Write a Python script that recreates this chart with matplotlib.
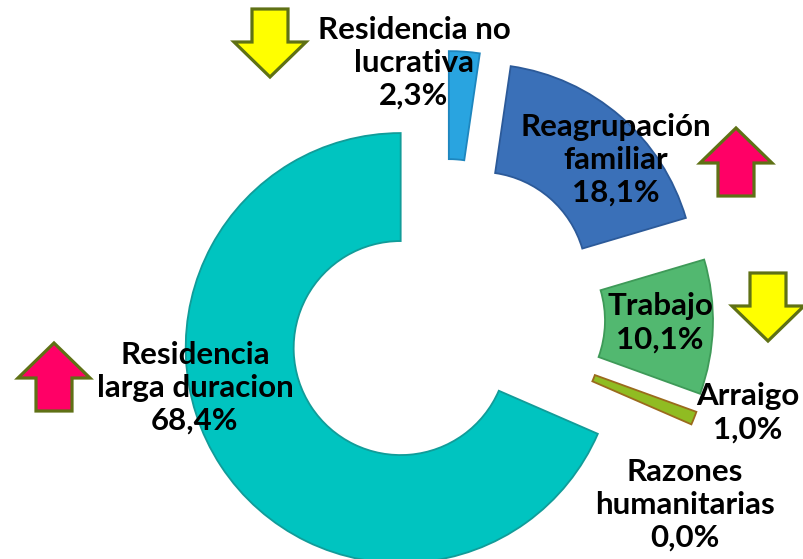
import matplotlib
matplotlib.use("Agg")
from matplotlib import pyplot as plt
from matplotlib.patches import FancyArrow

categories = ["Residencia no\nlucrativa", "Reagrupación\nfamiliar", "Trabajo", "Arraigo",
              "Razones\nhumanitarias", "Residencia\nlarga duracion"]
values = [2.3, 18.1, 10.1, 1.0, 0.0, 68.4]
labels = ["2,3%", "18,1%", "10,1%", "1,0%", "0,0%", "68,4%"]
colors = ["#29A4E0", "#3A70B8", "#52B870", "#90BC22", "#A05030", "#00C4C0"]
edges = ["#1E86BE", "#2C5A99", "#3E9A58", "#9A6A1C", "#A05030", "#119C99"]

W, H = 804, 559
fig = plt.figure(figsize=(W / 100, H / 100), dpi=100)
ax = fig.add_axes([0, 0, 1, 1])

keep = [i for i, v in enumerate(values) if v > 0]
wedges, _ = ax.pie([values[i] for i in keep], colors=[colors[i] for i in keep],
                   startangle=90, counterclock=False, radius=215, center=(445, H - 319),
                   explode=[53] * len(keep), frame=False,
                   wedgeprops=dict(width=108, linewidth=1.3))
for w, i in zip(wedges, keep):
    w.set_edgecolor(edges[i])
ax.set_xlim(0, W)
ax.set_ylim(0, H)
ax.set_aspect("equal")
ax.axis("off")

text_pos = [(414, 63), (616, 160), (660, 323), (748, 413), (685, 505), (195, 388)]
for name, lab, (x, y) in zip(categories, labels, text_pos):
    ax.text(x, H - y, name + "\n" + lab, ha="center", va="center", fontsize=22.5,
            fontweight="bold", family="Lato", linespacing=1.22, color="black")

# block arrows (x center, top y, direction) in screen px
arrow_pos = [(270, 9, -1), (736, 128, 1), (768, 273, -1), (54, 343, 1)]
for x, top, d in arrow_pos:
    if d > 0:
        start, dy, fc = H - top - 68, 68, "#FF0066"
    else:
        start, dy, fc = H - top, -68, "#FFFF00"
    ax.add_patch(FancyArrow(x, start, 0, dy, width=36, head_width=72, head_length=35,
                            length_includes_head=True, facecolor=fc,
                            edgecolor="#5F7115", linewidth=2.3, joinstyle="miter"))

fig.savefig("out.png", dpi=100)
